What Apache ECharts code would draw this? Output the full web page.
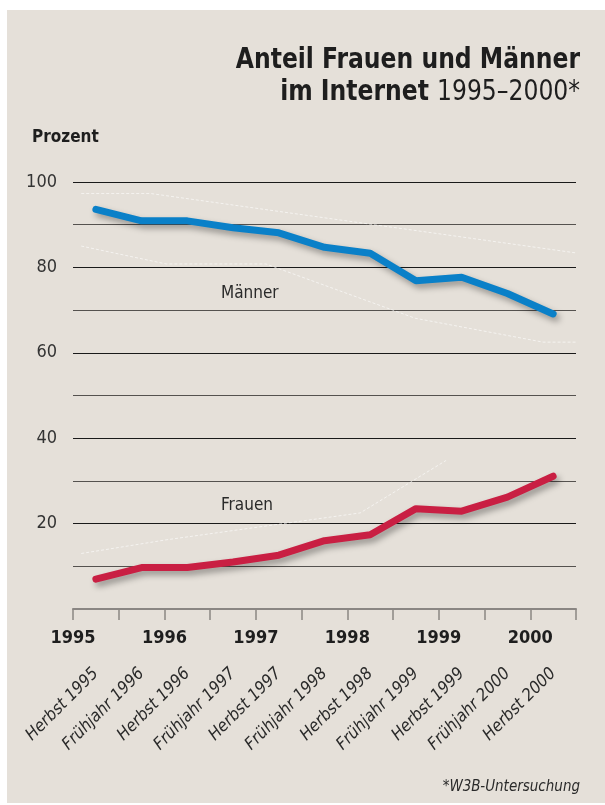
<!DOCTYPE html>
<html>
<head>
<meta charset="utf-8">
<script src="https://cdn.jsdelivr.net/npm/echarts@6/dist/echarts.min.js"></script>
<style>
  html, body { margin: 0; padding: 0; background: #fff; }
  #panel { position: absolute; left: 7px; top: 10px; width: 598px; height: 793px; background: #e5e0d9; }
  #chart { position: absolute; left: 0; top: 0; width: 605px; height: 805px; }
</style>
</head>
<body>
<div id="panel"></div>
<div id="chart"></div>
<script>
// Erhebungen (W3B)
var categories = ['Herbst 1995', 'Frühjahr 1996', 'Herbst 1996', 'Frühjahr 1997', 'Herbst 1997',
  'Frühjahr 1998', 'Herbst 1998', 'Frühjahr 1999', 'Herbst 1999', 'Frühjahr 2000', 'Herbst 2000'];
var maenner = [93.6, 90.9, 90.9, 89.3, 88.1, 84.7, 83.3, 76.9, 77.7, 73.9, 69.1];
var frauen = [7.0, 9.7, 9.7, 11.0, 12.6, 16.0, 17.4, 23.5, 22.9, 26.2, 31.1];
var yTickLabels = [20, 40, 60, 80, 100];

// blasse Hilfslinien im Hintergrund [Jahr, Prozent]
var ghostMaennerOben = [[1995.09, 97.3], [1995.85, 97.3], [2000.53, 83.3]];
var ghostMaennerUnten = [[1995.09, 85.0], [1996.02, 80.8], [1997.11, 80.8], [1998.74, 68.1], [2000.14, 62.5], [2000.53, 62.5]];
var ghostFrauen = [[1995.09, 13.0], [1996.02, 16.2], [1998.14, 22.5], [1999.08, 34.8]];

var narrow = "'Liberation Sans Narrow', 'DejaVu Sans Condensed', 'Liberation Sans', sans-serif";

var chart = echarts.init(document.getElementById('chart'), null, { renderer: 'canvas' });

function ghost(data) {
  return {
    type: 'line',
    xAxisIndex: 1,
    data: data,
    symbol: 'none',
    silent: true,
    z: 1,
    lineStyle: { color: 'rgba(255,255,255,0.6)', width: 1, type: [3, 2] }
  };
}

chart.setOption({
  backgroundColor: 'transparent',
  animation: false,
  grid: { left: 73, right: 29, top: 182, bottom: 196 },
  xAxis: [
    {
      type: 'category',
      data: categories,
      boundaryGap: true,
      position: 'bottom',
      axisLine: { show: false },
      axisTick: { show: false },
      axisLabel: {
        rotate: 45,
        margin: 62,
        fontFamily: narrow,
        fontStyle: 'italic',
        fontSize: 17,
        color: '#2a2a2a'
      }
    },
    {
      type: 'value',
      min: 1995,
      max: 2000.5,
      interval: 0.5,
      position: 'bottom',
      axisLine: { show: true, lineStyle: { color: '#8a8683', width: 2 } },
      axisTick: { show: true, length: 11, lineStyle: { color: '#8a8683', width: 1.5 } },
      splitLine: { show: false },
      axisLabel: {
        margin: 20,
        fontFamily: narrow,
        fontWeight: 'bold',
        fontSize: 18,
        color: '#1e1e1e',
        formatter: function (v) { return v % 1 === 0 ? String(v) : ''; }
      }
    }
  ],
  yAxis: {
    type: 'value',
    min: 0,
    max: 100,
    interval: 10,
    axisLine: { show: false },
    axisTick: { show: false },
    axisLabel: {
      margin: 16,
      fontFamily: narrow,
      fontSize: 18,
      color: '#333',
      formatter: function (v) { return yTickLabels.indexOf(v) >= 0 ? String(v) : ''; }
    },
    splitLine: { show: true, lineStyle: { color: ['#1a1a1a', '#55524f'], width: 1.2 } }
  },
  series: [
    ghost(ghostMaennerOben),
    ghost(ghostMaennerUnten),
    ghost(ghostFrauen),
    {
      name: 'Männer',
      type: 'line',
      data: maenner,
      symbol: 'none',
      z: 5,
      lineStyle: {
        color: '#0a80c8', width: 7, cap: 'round', join: 'round',
        shadowColor: 'rgba(0,0,0,0.35)', shadowBlur: 6, shadowOffsetX: 3, shadowOffsetY: 4
      }
    },
    {
      name: 'Frauen',
      type: 'line',
      data: frauen,
      symbol: 'none',
      z: 5,
      lineStyle: {
        color: '#c91f43', width: 7, cap: 'round', join: 'round',
        shadowColor: 'rgba(0,0,0,0.35)', shadowBlur: 6, shadowOffsetX: 3, shadowOffsetY: 4
      }
    }
  ],
  graphic: [
    {
      type: 'text', x: 580, y: 60, scaleX: 0.9,
      style: {
        text: 'Anteil Frauen und Männer', align: 'right', verticalAlign: 'middle',
        fontFamily: narrow, fontWeight: 'bold', fontSize: 29, fill: '#1e1e1e'
      }
    },
    {
      type: 'text', x: 580, y: 92, scaleX: 0.9,
      style: {
        text: '{b|im Internet}{l|1995–2000*}', align: 'right', verticalAlign: 'middle',
        rich: {
          b: { fontFamily: narrow, fontWeight: 'bold', fontSize: 29, fill: '#1e1e1e', padding: [0, 9, 0, 0] },
          l: { fontFamily: narrow, fontWeight: 'normal', fontSize: 29, fill: '#1e1e1e' }
        }
      }
    },
    {
      type: 'text', left: 32, top: 129,
      style: { text: 'Prozent', fontFamily: narrow, fontWeight: 'bold', fontSize: 17, fill: '#1e1e1e' }
    },
    {
      type: 'text', left: 221, top: 285,
      style: { text: 'Männer', fontFamily: narrow, fontSize: 17, fill: '#2a2a2a' }
    },
    {
      type: 'text', left: 221, top: 497,
      style: { text: 'Frauen', fontFamily: narrow, fontSize: 17, fill: '#2a2a2a' }
    },
    {
      type: 'text', right: 25, top: 780,
      style: { text: '*W3B-Untersuchung', fontFamily: narrow, fontStyle: 'italic', fontSize: 15, fill: '#2a2a2a' }
    }
  ]
});
</script>
</body>
</html>
